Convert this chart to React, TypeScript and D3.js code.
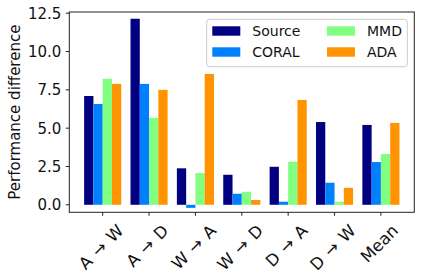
import React, { useEffect, useRef } from "react";
import * as d3 from "d3";

const categories = ["A → W", "A → D", "W → A", "W → D", "D → A", "D → W", "Mean"];
const methods = ["Source", "CORAL", "MMD", "ADA"];
const sourceValues = [7.1, 12.14, 2.38, 1.96, 2.48, 5.4, 5.21];
const coralValues = [6.58, 7.89, -0.2, 0.72, 0.2, 1.44, 2.79];
const mmdValues = [8.22, 5.67, 2.07, 0.85, 2.81, 0.2, 3.31];
const adaValues = [7.89, 7.5, 8.54, 0.31, 6.84, 1.11, 5.34];
const yTicks = [0, 2.5, 5, 7.5, 10, 12.5];
const colors = ["#000080", "#0080ff", "#80ff80", "#ff9400"];

const App: React.FC = () => {
  const ref = useRef<SVGSVGElement | null>(null);

  useEffect(() => {
    if (!ref.current) return;
    const width = 424;
    const height = 280;
    const left = 69.3, right = 414.3, top = 12, bottom = 212.3;
    const font = "DejaVu Sans, sans-serif";

    const svg = d3.select(ref.current);
    svg.selectAll("*").remove();
    svg.attr("width", width).attr("height", height);

    const series = [sourceValues, coralValues, mmdValues, adaValues];
    const x = d3.scaleLinear().domain([-0.72, categories.length - 1 + 0.72]).range([left, right]);
    const y = d3.scaleLinear().domain([-0.49, 12.58]).range([bottom, top]);
    const barW = 0.2;

    // bars
    series.forEach((vals, s) => {
      svg
        .append("g")
        .selectAll("rect")
        .data(vals)
        .enter()
        .append("rect")
        .attr("x", (d, i) => x(i + (s - 2) * barW))
        .attr("width", x(barW) - x(0))
        .attr("y", (d) => y(Math.max(0, d)))
        .attr("height", (d) => Math.abs(y(d) - y(0)))
        .attr("fill", colors[s]);
    });

    // spines
    svg
      .append("rect")
      .attr("x", left)
      .attr("y", top)
      .attr("width", right - left)
      .attr("height", bottom - top)
      .attr("fill", "none")
      .attr("stroke", "#222")
      .attr("stroke-width", 1);

    // y ticks
    yTicks.forEach((t) => {
      svg
        .append("line")
        .attr("x1", left - 3.5)
        .attr("x2", left)
        .attr("y1", y(t))
        .attr("y2", y(t))
        .attr("stroke", "#222");
      svg
        .append("text")
        .attr("x", left - 8)
        .attr("y", y(t))
        .attr("dy", "0.36em")
        .attr("text-anchor", "end")
        .style("font-family", font)
        .style("font-size", "15px")
        .attr("fill", "#111")
        .text(t.toFixed(1));
    });

    // x ticks, labels rotated 45 and centered on tick
    categories.forEach((c, i) => {
      const cx = x(i);
      svg
        .append("line")
        .attr("x1", cx)
        .attr("x2", cx)
        .attr("y1", bottom)
        .attr("y2", bottom + 3.5)
        .attr("stroke", "#222");
      const txt = svg
        .append("text")
        .attr("text-anchor", "middle")
        .attr("dy", "0.36em")
        .style("font-family", font)
        .style("font-size", "16.5px")
        .style("word-spacing", "1.5px")
        .attr("fill", "#111")
        .text(c);
      const len = (txt.node() as SVGTextElement).getComputedTextLength();
      const half = ((len + 16) * Math.SQRT1_2) / 2;
      const cy = bottom + 9.5 + half;
      txt.attr("x", 0).attr("y", 0).attr("transform", `translate(${cx - 1.8},${cy}) rotate(-45)`);
    });

    // y label
    svg
      .append("text")
      .attr("transform", `translate(15,${(top + bottom) / 2}) rotate(-90)`)
      .attr("text-anchor", "middle")
      .attr("dy", "0.36em")
      .style("font-family", font)
      .style("font-size", "15px")
      .attr("fill", "#111")
      .text("Performance difference");

    // legend
    const legend = svg.append("g").attr("transform", "translate(206.7,19.3)");
    legend
      .append("rect")
      .attr("width", 200.6)
      .attr("height", 47.4)
      .attr("rx", 3)
      .attr("fill", "white")
      .attr("fill-opacity", 0.8)
      .attr("stroke", "#ccc");
    methods.forEach((m, i) => {
      const col = Math.floor(i / 2);
      const row = i % 2;
      const g = legend
        .append("g")
        .attr("transform", `translate(${5.6 + col * 114.7},${11.7 + row * 21})`);
      g.append("rect")
        .attr("x", 0)
        .attr("y", -4.7)
        .attr("width", 28)
        .attr("height", 9.4)
        .attr("fill", colors[i]);
      g.append("text")
        .attr("x", 40)
        .attr("y", 0)
        .attr("dy", "0.36em")
        .style("font-family", font)
        .style("font-size", "14px")
        .attr("fill", "#111")
        .text(m);
    });
  }, []);

  return (
    <svg
      ref={ref}
      style={{ position: "absolute", left: 0, top: 0, display: "block", background: "white" }}
    ></svg>
  );
};

export default App;
